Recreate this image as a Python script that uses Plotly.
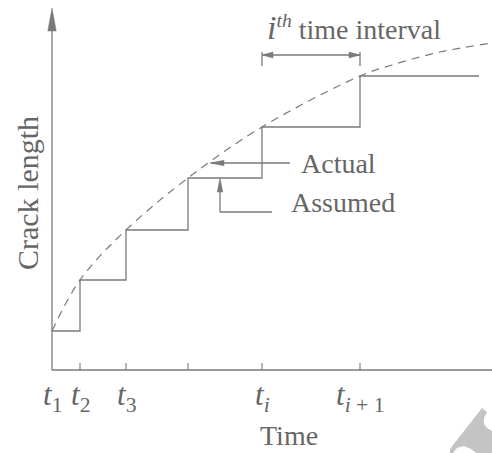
import plotly.graph_objects as go

# ---- data (arbitrary schematic units) ----
step_times = [0.0, 2.8, 7.4, 13.6, 21.0, 30.8, 42.7]          # t1, t2, t3, t4, t_i, t_i+1, end
step_lengths = [3.9, 9.0, 14.0, 19.2, 24.3, 29.4, 29.4]        # assumed (stepwise) crack length
curve_times = [0.0, 2.8, 7.4, 13.6, 21.0, 30.8, 34.0, 38.8, 44.0]
curve_lengths = [3.9, 9.0, 14.0, 19.2, 24.3, 29.4, 30.5, 31.8, 32.7]  # actual crack length
tick_times = [2.8, 7.4, 13.6, 21.0, 30.8]
tick_label_times = [0.0, 2.8, 7.4, 21.0, 30.8]
tick_labels = ["<i>t</i><sub>1</sub>", "<i>t</i><sub>2</sub>", "<i>t</i><sub>3</sub>",
               "<i>t</i><sub><i>i</i></sub>", "<i>t</i><sub><i>i</i> + 1</sub>"]
y_top = 36.2
x_end = 44.0

LINE = "#7a7a7a"
TEXT = "#666666"
FONT = "Liberation Serif"
FS = 28

fig = go.Figure()

# assumed staircase
fig.add_trace(go.Scatter(x=step_times, y=step_lengths, mode="lines",
                         line=dict(color=LINE, width=1.3, shape="hv"),
                         hoverinfo="skip", showlegend=False))
# actual curve (dashed)
fig.add_trace(go.Scatter(x=curve_times, y=curve_lengths, mode="lines",
                         line=dict(color=LINE, width=1.2, shape="spline", dash="8px,6px"),
                         hoverinfo="skip", showlegend=False))

shapes = []

def seg(x0, y0, x1, y1, w=1.3):
    shapes.append(dict(type="line", xref="x", yref="y", x0=x0, y0=y0, x1=x1, y1=y1,
                       line=dict(color=LINE, width=w)))

def head(tx, ty, dx, dy, L, W):
    bx, by = tx - L * dx, ty - L * dy
    px, py = -dy, dx
    path = (f"M{tx},{ty} L{bx + W * px},{by + W * py} "
            f"L{bx - W * px},{by - W * py} Z")
    shapes.append(dict(type="path", xref="x", yref="y", path=path,
                       fillcolor=LINE, line=dict(color=LINE, width=0.5)))

# axes
seg(0, 0, 0, y_top - 1.0)
head(0, y_top, 0, 1, 2.3, 0.42)
seg(0, 0, x_end, 0, 1.5)
for t in tick_times:
    seg(t, 0, t, 0.7, 1.1)

# "Actual" pointer
act_y = (curve_lengths[3] + curve_lengths[4]) / 2 - 1.05
seg(15.9, act_y, 23.8, act_y)
head(15.8, act_y, -1, 0, 1.4, 0.28)
# "Assumed" pointer
seg(16.8, 15.8, 22.0, 15.8)
seg(16.8, 15.8, 16.8, 18.0)
head(16.8, step_lengths[3], 0, 1, 1.4, 0.28)
# interval arrow
iy = 31.5
seg(step_times[4], iy, step_times[5], iy)
head(step_times[4], iy, -1, 0, 1.1, 0.3)
head(step_times[5], iy, 1, 0, 1.1, 0.3)
seg(step_times[4], 31.8, step_times[4], 30.4)
seg(step_times[5], 31.8, step_times[5], 30.4)

# faint watermark fragment in the bottom-right corner (pixel outline -> data units)
wm_px = [(482, 408), (487, 412), (484, 418), (484, 424), (487, 428), (492, 431),
         (492, 453), (476, 453), (471, 449), (464, 446), (457, 448), (453, 453),
         (450, 453), (450, 449)]
wm = [((px - 52) / 10, (370 - py) / 10) for px, py in wm_px]
shapes.append(dict(type="path", xref="x", yref="y", layer="below",
                   path="M" + " L".join(f"{a},{b}" for a, b in wm) + " Z",
                   fillcolor="#c4c4c4", line=dict(width=0)))

ann = []
def text(x, y, s, xa="left", ya="middle", angle=0, size=FS):
    ann.append(dict(x=x, y=y, xref="x", yref="y", text=s, showarrow=False,
                    xanchor=xa, yanchor=ya, textangle=angle,
                    font=dict(family=FONT, size=size, color=TEXT)))

for t, lab in zip(tick_label_times, tick_labels):
    text(t, -2.7, lab, xa="center", size=31)
text(20.6, -6.55, "Time", xa="left")
text(-2.5, 17.7, "Crack length", xa="center", angle=-90, size=30)
text(24.7, 20.65, "Actual")
text(23.7, 16.8, "Assumed")
text(21.3, 34.3, "<span style='font-size:34px'><i>i</i></span><sup><i>th</i></sup> time interval")

fig.update_layout(
    width=492, height=453,
    margin=dict(l=0, r=0, t=0, b=0),
    paper_bgcolor="white", plot_bgcolor="white",
    xaxis=dict(range=[-5.2, 44.0], visible=False, fixedrange=True),
    yaxis=dict(range=[-8.3, 37.0], visible=False, fixedrange=True),
    shapes=shapes, annotations=ann, showlegend=False,
)

fig.write_html("out.html", config={"displayModeBar": False},
               post_script="document.body.style.margin='0px';")
